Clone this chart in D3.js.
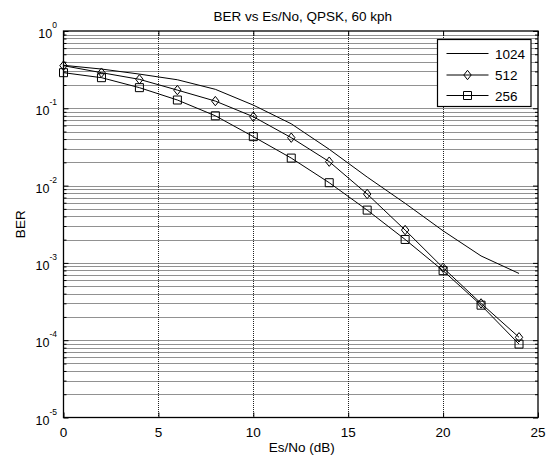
<!DOCTYPE html>
<html>
<head>
<meta charset="utf-8">
<script src="https://cdn.jsdelivr.net/npm/d3@7"></script>
<style>
  html, body { margin: 0; padding: 0; background: #fff; }
  svg { display: block; font-family: "Liberation Sans", Arial, sans-serif; }
</style>
</head>
<body>
<svg id="chart" width="549" height="459"></svg>
<script>
// Es/No sweep (dB) and measured BER for three block sizes
const snrDb = [0, 2, 4, 6, 8, 10, 12, 14, 16, 18, 20, 22, 24];
const ber1024 = [0.36, 0.322, 0.277, 0.234, 0.176, 0.110, 0.063, 0.0295, 0.0129, 0.0059, 0.0026, 0.00123, 0.00073];
const ber512 = [0.356, 0.289, 0.237, 0.172, 0.124, 0.0778, 0.0417, 0.0204, 0.00778, 0.00266, 0.000865, 0.000299, 0.000109];
const ber256 = [0.289, 0.249, 0.185, 0.128, 0.080, 0.043, 0.0227, 0.0109, 0.00482, 0.00201, 0.000793, 0.000284, 0.0000891];

const seriesNames = ["1024", "512", "256"];
const seriesMarkers = ["none", "diamond", "square"];
const xTicks = [0, 5, 10, 15, 20, 25];
const yExponents = [0, -1, -2, -3, -4, -5];

const titleText = "BER vs Es/No, QPSK, 60 kph";
const xLabelText = "Es/No (dB)";
const yLabelText = "BER";

const svg = d3.select("#chart");
const L = 63.5, R = 538, T = 31, B = 417.5;

const x = d3.scaleLinear().domain([0, 25]).range([L, R]);
const y = d3.scaleLog().domain([1e-5, 1]).range([B, T]);

// grid: major x, major + minor y
const gridG = svg.append("g");
xTicks.slice(1, -1).forEach(t => {
  gridG.append("line")
    .attr("x1", Math.round(x(t)) + 0.5).attr("x2", Math.round(x(t)) + 0.5)
    .attr("y1", T).attr("y2", B)
    .attr("stroke", "#222").attr("stroke-width", 1).attr("stroke-dasharray", "1,1");
});
const yMinor = [];
for (let e = -5; e < 0; e++) {
  for (let m = 1; m < 10; m++) yMinor.push(m * Math.pow(10, e));
}
yMinor.forEach(v => {
  if (v === 1e-5) return;
  gridG.append("line")
    .attr("x1", L).attr("x2", R)
    .attr("y1", Math.round(y(v)) + 0.5).attr("y2", Math.round(y(v)) + 0.5)
    .attr("stroke", "#222").attr("stroke-width", 1).attr("stroke-dasharray", "1,1");
});

// axes (MATLAB style: box, ticks inward)
const xAxisB = d3.axisBottom(x).tickValues(xTicks).tickSize(-5).tickFormat("");
const xAxisT = d3.axisTop(x).tickValues(xTicks).tickSize(-5).tickFormat("");
svg.append("g").attr("transform", `translate(0,${B})`).call(xAxisB);
svg.append("g").attr("transform", `translate(0,${T})`).call(xAxisT);

const yMajor = yExponents.map(e => Math.pow(10, e));
const yAxisL = d3.axisLeft(y).tickValues(yMajor).tickSize(-5).tickFormat("");
const yAxisR = d3.axisRight(y).tickValues(yMajor).tickSize(-5).tickFormat("");
const yAxisLm = d3.axisLeft(y).tickValues(yMinor.filter(v => !yMajor.some(M => Math.abs(M - v) < 1e-12))).tickSize(-3).tickFormat("");
const yAxisRm = d3.axisRight(y).tickValues(yMinor.filter(v => !yMajor.some(M => Math.abs(M - v) < 1e-12))).tickSize(-3).tickFormat("");
svg.append("g").attr("transform", `translate(${L},0)`).call(yAxisL);
svg.append("g").attr("transform", `translate(${R},0)`).call(yAxisR);
svg.append("g").attr("transform", `translate(${L},0)`).call(yAxisLm);
svg.append("g").attr("transform", `translate(${R},0)`).call(yAxisRm);
svg.selectAll(".domain").remove();
svg.selectAll(".tick line").attr("stroke", "#000");

svg.append("rect")
  .attr("x", L).attr("y", T).attr("width", R - L).attr("height", B - T)
  .attr("fill", "none").attr("stroke", "#000").attr("stroke-width", 1.3);

// tick labels
xTicks.forEach(t => {
  svg.append("text").attr("x", x(t)).attr("y", 437)
    .attr("text-anchor", "middle").attr("font-size", 13.5).text(t);
});
yExponents.forEach(e => {
  const ty = y(Math.pow(10, e));
  const txt = svg.append("text").attr("x", 57).attr("y", ty + 7)
    .attr("text-anchor", "end").attr("font-size", 12.5);
  txt.append("tspan").text("10");
  txt.append("tspan").attr("font-size", 8.5).attr("dy", -10).text(e);
});

// titles
svg.append("text").attr("x", (L + R) / 2 + 2).attr("y", 21)
  .attr("text-anchor", "middle").attr("font-size", 13.5).text(titleText);
svg.append("text").attr("x", (L + R) / 2 + 1).attr("y", 452)
  .attr("text-anchor", "middle").attr("font-size", 13.5).text(xLabelText);
svg.append("text").attr("transform", `translate(25,${(T + B) / 2}) rotate(-90)`)
  .attr("text-anchor", "middle").attr("font-size", 13.5).text(yLabelText);

// series
const clipId = "plotClip";
svg.append("clipPath").attr("id", clipId).append("rect")
  .attr("x", L).attr("y", T).attr("width", R - L).attr("height", B - T);

const seriesData = [ber1024, ber512, ber256];
const line = d3.line().x(d => x(d[0])).y(d => y(d[1]));

function markerPath(kind) {
  if (kind === "diamond") return "M0,-4.7L3.7,0L0,4.7L-3.7,0Z";
  if (kind === "square") return "M-4,-4H4V4H-4Z";
  return null;
}

const plotG = svg.append("g");
seriesData.forEach((vals, i) => {
  const pts = snrDb.map((s, k) => [s, vals[k]]);
  plotG.append("path").datum(pts).attr("d", line)
    .attr("fill", "none").attr("stroke", "#000").attr("stroke-width", 1);
  const mp = markerPath(seriesMarkers[i]);
  if (mp) {
    plotG.selectAll(null).data(pts).enter().append("path")
      .attr("transform", d => `translate(${x(d[0])},${y(d[1])})`)
      .attr("d", mp).attr("fill", "none").attr("stroke", "#000").attr("stroke-width", 1);
  }
});

// legend
const lg = svg.append("g");
lg.append("rect").attr("x", 437.5).attr("y", 39.5).attr("width", 93.5).attr("height", 67)
  .attr("fill", "#fff").attr("stroke", "#000").attr("stroke-width", 1.2);
const rowsY = [53.5, 75, 95.5];
seriesNames.forEach((name, i) => {
  lg.append("line").attr("x1", 446.5).attr("x2", 488.5)
    .attr("y1", rowsY[i]).attr("y2", rowsY[i]).attr("stroke", "#000").attr("stroke-width", 1);
  const mp = markerPath(seriesMarkers[i]);
  if (mp) {
    lg.append("path").attr("transform", `translate(467.5,${rowsY[i]})`)
      .attr("d", mp).attr("fill", "none").attr("stroke", "#000").attr("stroke-width", 1);
  }
  lg.append("text").attr("x", 495).attr("y", rowsY[i] + 5)
    .attr("font-size", 13.5).text(name);
});
</script>
</body>
</html>
